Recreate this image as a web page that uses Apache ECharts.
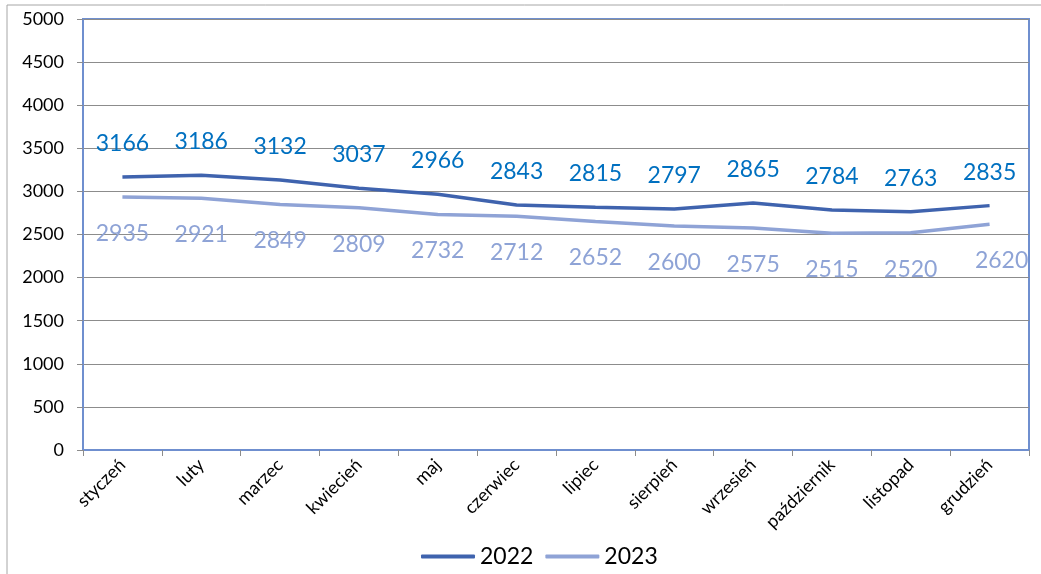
<!DOCTYPE html>
<html>
<head>
<meta charset="utf-8">
<script src="https://cdn.jsdelivr.net/npm/echarts@6/dist/echarts.min.js"></script>
<style>
  html, body { margin: 0; padding: 0; background: #fff; }
  #chart { width: 1041px; height: 574px; }
</style>
</head>
<body>
<div id="chart"></div>
<script>
const months = ['styczeń', 'luty', 'marzec', 'kwiecień', 'maj', 'czerwiec', 'lipiec', 'sierpień', 'wrzesień', 'październik', 'listopad', 'grudzień'];
const values2022 = [3166, 3186, 3132, 3037, 2966, 2843, 2815, 2797, 2865, 2784, 2763, 2835];
const values2023 = [2935, 2921, 2849, 2809, 2732, 2712, 2652, 2600, 2575, 2515, 2520, 2620];

const chart = echarts.init(document.getElementById('chart'));
const font = 'Lato, "Open Sans", sans-serif';

const options = {
  animation: false,
  textStyle: { fontFamily: font },
  graphic: [
    {
      type: 'rect',
      shape: { x: 7, y: 5, width: 1200, height: 700 },
      style: { fill: 'none', stroke: '#a6a6a6', lineWidth: 1 },
      silent: true
    }
  ],
  grid: {
    left: 83,
    right: 12,
    top: 19,
    bottom: 124,
    show: true,
    borderColor: '#6f8fcf',
    borderWidth: 2
  },
  legend: {
    bottom: 1,
    left: 416,
    itemWidth: 54,
    itemHeight: 4,
    itemGap: 12,
    icon: 'roundRect',
    textStyle: { fontSize: 23, color: '#000', fontFamily: font },
    data: ['2022', '2023']
  },
  xAxis: {
    type: 'category',
    data: months,
    boundaryGap: true,
    axisLine: { lineStyle: { color: '#6f8fcf', width: 2 } },
    axisTick: { show: true, length: 6, lineStyle: { color: '#8c8c8c' } },
    axisLabel: { rotate: 45, margin: 12, fontSize: 18, color: '#000', interval: 0 }
  },
  yAxis: {
    type: 'value',
    min: 0,
    max: 5000,
    interval: 500,
    axisLine: { show: true, lineStyle: { color: '#6f8fcf', width: 2 } },
    axisTick: { show: true, length: 6, lineStyle: { color: '#8c8c8c' } },
    axisLabel: { margin: 19, fontSize: 18, color: '#000', formatter: v => String(v) },
    splitLine: { lineStyle: { color: '#8c8c8c', width: 1 } }
  },
  series: [
    {
      name: '2022',
      type: 'line',
      data: values2022,
      showSymbol: true,
      symbol: 'circle',
      symbolSize: 0,
      lineStyle: { color: '#3f63ae', width: 3.5 },
      itemStyle: { color: '#3f63ae' },
      label: {
        show: true,
        position: 'top',
        distance: 22,
        fontSize: 23,
        color: '#0070c0',
        fontFamily: font
      }
    },
    {
      name: '2023',
      type: 'line',
      data: values2023.map((v, i) => i === 11 ? { value: v, label: { offset: [12, 0] } } : v),
      showSymbol: true,
      symbol: 'circle',
      symbolSize: 0,
      lineStyle: { color: '#8fa3d6', width: 3.5 },
      itemStyle: { color: '#8fa3d6' },
      label: {
        show: true,
        position: 'bottom',
        distance: 25,
        fontSize: 23,
        color: '#8ea3d6',
        fontFamily: font
      }
    }
  ]
};

chart.setOption(options);
</script>
</body>
</html>
